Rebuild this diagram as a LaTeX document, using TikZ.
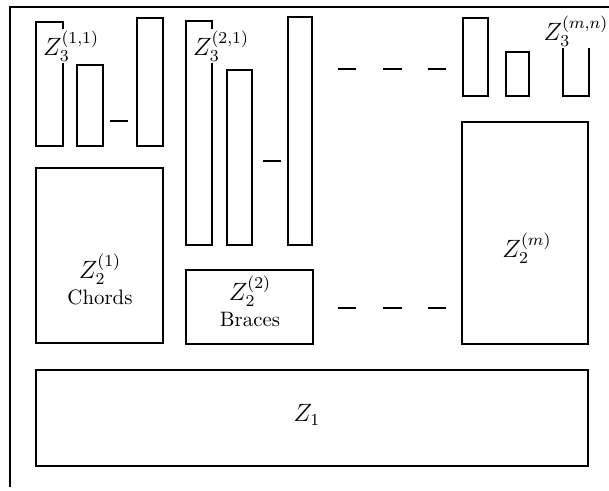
\documentclass[tikz,border=0pt]{standalone}
\newcommand{\zlab}[2]{$Z_{#1}^{\raisebox{-1.5pt}{$\scriptstyle(#2)$}}$}
\begin{document}
\begin{tikzpicture}[x=0.48pt,y=-0.48pt,
  boxline/.style={draw=black,line width=0.8pt},
  frameline/.style={draw=black,line width=0.6pt},
  gapmark/.style={draw=black,line width=0.8pt},
  zl/.style={font=\large,inner sep=0.6pt},
  lbl/.style={zl,fill=white},
  word/.style={inner sep=0pt}]
\useasboundingbox (0,0) rectangle (609,491);
% outer frame (top and left only)
\draw[frameline] (609,7) -- (10,7) -- (10,487);
% group 1
\draw[boxline] (36,22) rectangle (63,146);
\draw[boxline] (77,65) rectangle (103,146);
\draw[gapmark] (110,121) -- (128,121);
\draw[boxline] (137,18) rectangle (163,146);
\node[lbl] (z311) at (71,46) {\zlab{3}{1,1}};
% group 2
\draw[boxline] (186,21) rectangle (212,245);
\draw[boxline] (227,70) rectangle (252,245);
\draw[gapmark] (263,161) -- (281,161);
\draw[boxline] (288,17) rectangle (312,245);
\node[lbl] (z321) at (221,46) {\zlab{3}{2,1}};
% dots row 1
\draw[gapmark] (338,69) -- (356,69);
\draw[gapmark] (383,69) -- (402,69);
\draw[gapmark] (428,69) -- (446,69);
% group m
\draw[boxline] (463,18) rectangle (488,96);
\draw[boxline] (506,52) rectangle (529,96);
\draw[boxline] (563,20) rectangle (589,96);
\node[lbl] (z3mn) at (576,31) {\zlab{3}{m,n}};
% Z2 boxes
\draw[boxline] (36,168) rectangle (163,343);
\node[zl,inner sep=0pt] (z21) at (100,269) {\zlab{2}{1}};
\node[word] (c1) at (100,297) {Chords};
\draw[boxline] (186,270) rectangle (313,344);
\node[zl,inner sep=0pt] (z22) at (250,291) {\zlab{2}{2}};
\node[word] (b2) at (250,319) {Braces};
\draw[gapmark] (338,308) -- (356,308);
\draw[gapmark] (383,308) -- (402,308);
\draw[gapmark] (428,308) -- (446,308);
\draw[boxline] (462,122) rectangle (588,344);
\node[zl] (z2m) at (527,248) {\zlab{2}{m}};
% Z1
\draw[boxline] (36,370) rectangle (588,466);
\node[zl] (z1) at (307,415) {$Z_1$};
\end{tikzpicture}
\end{document}
